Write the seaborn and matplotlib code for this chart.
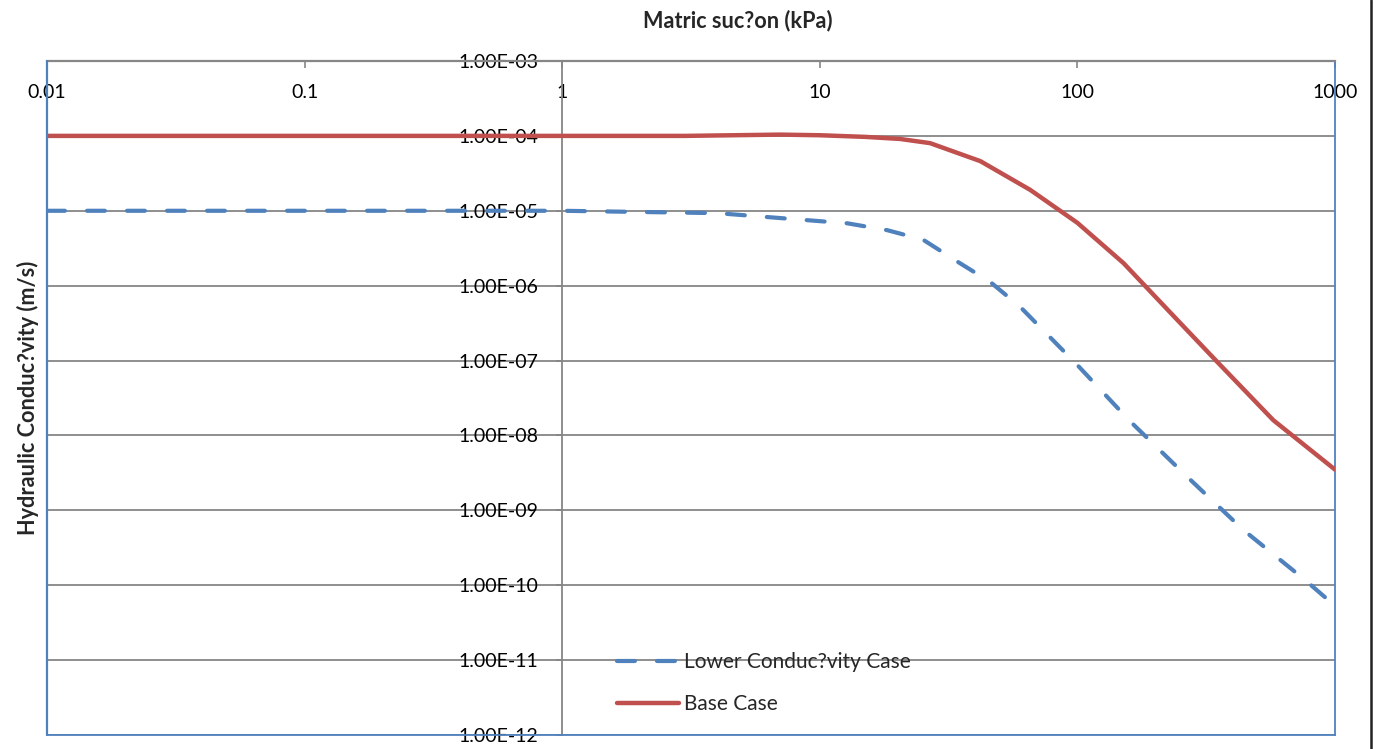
import matplotlib
matplotlib.use("Agg")
import numpy as np
import pandas as pd
import seaborn as sns
import matplotlib.pyplot as plt
from matplotlib.ticker import FixedLocator, FixedFormatter, NullLocator
from matplotlib.lines import Line2D

# ---- data ----
suction_low = [0.01, 0.1, 1, 4, 8.9, 12.8, 18.3, 25.2, 34.4, 45.9, 60, 100, 160, 267, 440, 766, 1000]
k_low = [1.0e-5, 1.0e-5, 1.0e-5, 9.3e-6, 7.5e-6, 6.8e-6, 5.5e-6, 4.1e-6, 2.07e-6, 1.12e-6,
         5.2e-7, 8.7e-8, 1.55e-8, 2.8e-9, 5.5e-10, 1.17e-10, 5.3e-11]

suction_base = [0.01, 0.1, 1, 3, 7, 10, 15, 20.5, 26.8, 42, 65.6, 100, 151, 244, 349, 576, 1000]
k_base = [1.0e-4, 1.0e-4, 1.0e-4, 1.0e-4, 1.04e-4, 1.02e-4, 9.7e-5, 9.1e-5, 8.0e-5, 4.6e-5,
          1.9e-5, 6.9e-6, 2.0e-6, 3.5e-7, 9.6e-8, 1.6e-8, 3.5e-9]

series_names = ["Lower Conduc?vity Case", "Base Case"]

x_tick_values = [0.01, 0.1, 1, 10, 100, 1000]
x_tick_labels = ["0.01", "0.1", "1", "10", "100", "1000"]
y_tick_values = [1e-12, 1e-11, 1e-10, 1e-9, 1e-8, 1e-7, 1e-6, 1e-5, 1e-4, 1e-3]
y_tick_labels = ["1.00E-12", "1.00E-11", "1.00E-10", "1.00E-09", "1.00E-08",
                 "1.00E-07", "1.00E-06", "1.00E-05", "1.00E-04", "1.00E-03"]

x_title = "Matric suc?on (kPa)"
y_title = "Hydraulic Conduc?vity (m/s)"

# ---- styling ----
BLUE = "#4F81BD"
RED = "#C0504D"
GRAY = "#868686"

sns.set_style("white")
plt.rcParams["font.family"] = ["Lato", "DejaVu Sans"]

W, H = 1392, 749
fig = plt.figure(figsize=(W / 100, H / 100), dpi=100)
ax = fig.add_axes([47 / W, 1 - 735 / H, 1288 / W, 674 / H])

df_low = pd.DataFrame({"suction": suction_low, "k": k_low})
df_base = pd.DataFrame({"suction": suction_base, "k": k_base})

sns.lineplot(data=df_low, x="suction", y="k", ax=ax, color=BLUE, linewidth=3,
             linestyle=(0, (4.3, 5.3)), dash_capstyle="round", estimator=None,
             zorder=3, legend=False)
sns.lineplot(data=df_base, x="suction", y="k", ax=ax, color=RED, linewidth=3.2,
             solid_capstyle="round", estimator=None, zorder=4, legend=False)

ax.set_xscale("log")
ax.set_yscale("log")
ax.set_xlim(0.01, 1000)
ax.set_ylim(1e-12, 1e-3)

ax.xaxis.set_major_locator(FixedLocator(x_tick_values))
ax.xaxis.set_major_formatter(FixedFormatter(x_tick_labels))
ax.xaxis.set_minor_locator(NullLocator())
ax.yaxis.set_major_locator(FixedLocator(y_tick_values))
ax.yaxis.set_major_formatter(FixedFormatter(y_tick_labels))
ax.yaxis.set_minor_locator(NullLocator())

ax.xaxis.tick_top()
ax.xaxis.set_label_position("top")
ax.tick_params(axis="x", which="major", direction="in", length=5, width=1.2, color=GRAY,
               pad=-29, labelsize=14, labelcolor="black", top=True, bottom=False)
ax.tick_params(axis="y", which="major", direction="out", length=4, width=1.2, color=GRAY,
               pad=13, labelsize=14, labelcolor="black", left=True)

ax.grid(axis="y", color=GRAY, linewidth=1.3)
ax.grid(axis="x", visible=False)
ax.set_axisbelow(True)

# spines
ax.spines["left"].set_position(("data", 1))
ax.spines["left"].set_color(GRAY)
ax.spines["left"].set_linewidth(1.3)
ax.spines["top"].set_color(GRAY)
ax.spines["top"].set_linewidth(1.6)
for s in ("bottom", "right"):
    ax.spines[s].set_visible(True)
    ax.spines[s].set_color(BLUE)
    ax.spines[s].set_linewidth(1.3)
# left blue border of the plot area
ax.add_line(Line2D([0, 0], [0, 1], transform=ax.transAxes, color=BLUE, linewidth=1.6,
                   clip_on=False, zorder=5))

ax.set_xlabel(x_title, fontsize=15.6, fontweight="bold")
ax.xaxis.set_label_coords(0.5365, 1.0504)
ax.set_ylabel(y_title, fontsize=15.6, fontweight="bold")
ax.yaxis.set_label_coords(-0.0062, 0.5)

lines = ax.get_lines()
ax.legend(handles=[lines[0], lines[1]], labels=series_names, loc="upper left",
          bbox_to_anchor=(0.4425, 0.1225), frameon=False, borderpad=0, borderaxespad=0,
          handlelength=3.0, handletextpad=0.24, labelspacing=1.03, fontsize=15)

# page border line at right
fig.add_artist(Line2D([1371 / W, 1371 / W], [0, 1], transform=fig.transFigure,
                      color="#222222", linewidth=1.8))

fig.savefig("out.png", dpi=100, facecolor="white")
